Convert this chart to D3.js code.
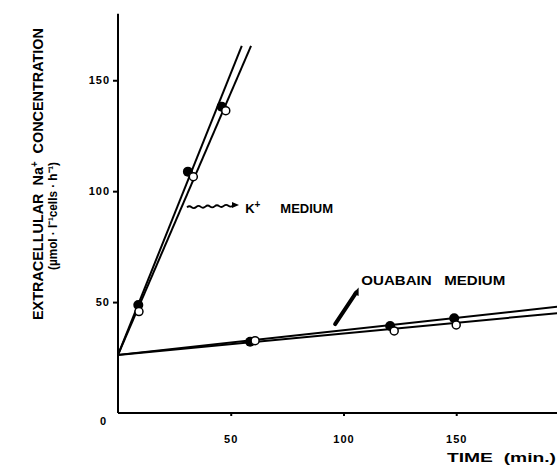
<!DOCTYPE html>
<html>
<head>
<meta charset="utf-8">
<script src="https://cdn.jsdelivr.net/npm/d3@7"></script>
<style>
  html, body { margin: 0; padding: 0; background: #fff; }
  text { font-family: "Liberation Sans", Arial, sans-serif; font-weight: bold; fill: #000; }
</style>
</head>
<body>
<div id="chart"></div>
<script>
// values (time in min, Na+ in umol/l cells/h)
var kFilledTime = [9, 31, 46];
var kFilledNa = [48.7, 108.8, 138.1];
var kOpenTime = [9.3, 33.4, 47.8];
var kOpenNa = [45.7, 106.5, 136.3];

var ouaFilledTime = [58.6, 120.7, 149.1];
var ouaFilledNa = [32.1, 39.2, 42.7];
var ouaOpenTime = [60.8, 122.5, 150];
var ouaOpenNa = [32.6, 37.0, 39.7];

// regression lines, start / end
var kFilledFit = [[0, 26.2], [54.9, 165.5]];
var kOpenFit = [[0, 26.2], [59.0, 165.5]];
var ouaFilledFit = [[0, 26.2], [194.9, 47.9]];
var ouaOpenFit = [[0, 26.2], [194.9, 45.0]];

var xTicks = [50, 100, 150];
var yTicks = [50, 100, 150];

var width = 557, height = 466;

var svg = d3.select('#chart').append('svg')
    .attr('width', width)
    .attr('height', height);

var x = d3.scaleLinear().domain([0, 194.7]).range([118, 557]);
var y = d3.scaleLinear().domain([0, 180]).range([413, 13.7]);

function zip(a, b) {
    return a.map(function(d, i) { return [d, b[i]]; });
}

// axes
var xAxis = d3.axisBottom(x).tickValues(xTicks).tickSize(3).tickPadding(19);
var yAxis = d3.axisLeft(y).tickValues(yTicks).tickSize(5).tickPadding(3);

var gx = svg.append('g').attr('transform', 'translate(0,' + y(0) + ')').call(xAxis);
var gy = svg.append('g').attr('transform', 'translate(' + x(0) + ',0)').call(yAxis);

[gx, gy].forEach(function(g) {
    g.select('.domain').attr('stroke', '#000').attr('stroke-width', 2);
    g.selectAll('.tick line').attr('stroke', '#000').attr('stroke-width', 2);
    g.selectAll('.tick text')
        .style('font-family', '"Liberation Sans", Arial, sans-serif')
        .style('font-weight', 'bold')
        .style('font-size', '11px')
        .style('letter-spacing', '1px')
        .attr('fill', '#000');
});
gx.select('.domain').attr('d', 'M' + x(0) + ',0H' + width);
gy.select('.domain').attr('d', 'M0,' + y(0) + 'V' + y(180));

// origin label
svg.append('text')
    .attr('x', x(0) - 15).attr('y', y(0) + 12)
    .attr('text-anchor', 'middle')
    .style('font-size', '11px')
    .text('0');

// fitted lines
var line = d3.line()
    .x(function(d) { return x(d[0]); })
    .y(function(d) { return y(d[1]); });

[kFilledFit, kOpenFit, ouaFilledFit, ouaOpenFit].forEach(function(f) {
    svg.append('path')
        .attr('d', line(f))
        .attr('fill', 'none')
        .attr('stroke', '#000')
        .attr('stroke-width', 2);
});

// points: filled first, open on top
function dots(pts, filled) {
    svg.append('g').selectAll('circle')
        .data(pts)
        .enter().append('circle')
        .attr('cx', function(d) { return x(d[0]); })
        .attr('cy', function(d) { return y(d[1]); })
        .attr('r', filled ? 5 : 4)
        .attr('fill', filled ? '#000' : '#fff')
        .attr('stroke', '#000')
        .attr('stroke-width', filled ? 0 : 1.5);
}
dots(zip(kFilledTime, kFilledNa), true);
dots(zip(ouaFilledTime, ouaFilledNa), true);
dots(zip(kOpenTime, kOpenNa), false);
dots(zip(ouaOpenTime, ouaOpenNa), false);

// K+ medium annotation: wavy arrow
var wx0 = x(30.6), wy0 = y(92.7), wx1 = x(51), wy1 = y(93.5);
var wd = 'M' + wx0 + ',' + wy0;
var n = 10;
for (var i = 1; i <= n; i++) {
    var t = i / n;
    var px = wx0 + (wx1 - wx0) * t;
    var py = wy0 + (wy1 - wy0) * t;
    var cx = wx0 + (wx1 - wx0) * (t - 0.5 / n);
    var cy = wy0 + (wy1 - wy0) * (t - 0.5 / n) + (i % 2 ? -2 : 2);
    wd += 'Q' + cx + ',' + cy + ' ' + px + ',' + py;
}
svg.append('path').attr('d', wd)
    .attr('fill', 'none').attr('stroke', '#000').attr('stroke-width', 1.8);
svg.append('path')
    .attr('d', 'M' + (wx1 - 1) + ',' + (wy1 - 3.5) + 'L' + (wx1 + 6) + ',' + (wy1 - 0.5) + 'L' + (wx1 - 1) + ',' + (wy1 + 2.5) + 'Z')
    .attr('fill', '#000');

var kLabel = svg.append('text')
    .attr('x', x(56.4)).attr('y', y(90.3))
    .style('font-size', '13px');
kLabel.append('tspan').text('K');
kLabel.append('tspan').attr('dy', -5).style('font-size', '10px').text('+');
kLabel.append('tspan').attr('x', x(72)).attr('dy', 5).text('MEDIUM');

// ouabain annotation: thick arrow
var ax0 = x(96.3), ay0 = y(40.1), ax1 = x(105.6), ay1 = y(54.3);
svg.append('line')
    .attr('x1', ax0).attr('y1', ay0).attr('x2', ax1).attr('y2', ay1)
    .attr('stroke', '#000').attr('stroke-width', 4).attr('stroke-linecap', 'round');
svg.append('path')
    .attr('d', 'M' + (ax1 - 3) + ',' + (ay1 + 1) + 'L' + (ax1 + 2.5) + ',' + (ay1 - 5) + 'L' + (ax1 + 2.5) + ',' + (ay1 + 3.5) + 'Z')
    .attr('fill', '#000');

svg.append('text')
    .attr('x', x(107.9)).attr('y', y(57.5))
    .attr('textLength', 144).attr('lengthAdjust', 'spacingAndGlyphs')
    .style('font-size', '13px')
    .attr('xml:space', 'preserve')
    .text('OUABAIN   MEDIUM');

// axis titles
svg.append('text')
    .attr('x', 447).attr('y', 462)
    .attr('textLength', 109).attr('lengthAdjust', 'spacingAndGlyphs')
    .attr('xml:space', 'preserve')
    .style('font-size', '13px')
    .text('TIME  (min.)');

var yt = svg.append('text')
    .attr('transform', 'translate(43,320) rotate(-90)')
    .attr('textLength', 292).attr('lengthAdjust', 'spacingAndGlyphs')
    .attr('xml:space', 'preserve')
    .attr('fill', '#000')
    .style('font-size', '15px');
yt.append('tspan').text('EXTRACELLULAR  Na');
yt.append('tspan').attr('dy', -5).style('font-size', '10px').text('+');
yt.append('tspan').attr('dy', 5).text('  CONCENTRATION');

svg.append('text')
    .attr('transform', 'translate(57,270) rotate(-90)')
    .attr('textLength', 108).attr('lengthAdjust', 'spacingAndGlyphs')
    .attr('fill', '#000')
    .style('font-size', '13px')
    .text('(\u00b5mol \u00b7 l\u207b\u00b9cells \u00b7 h\u207b\u00b9)');
</script>
</body>
</html>
